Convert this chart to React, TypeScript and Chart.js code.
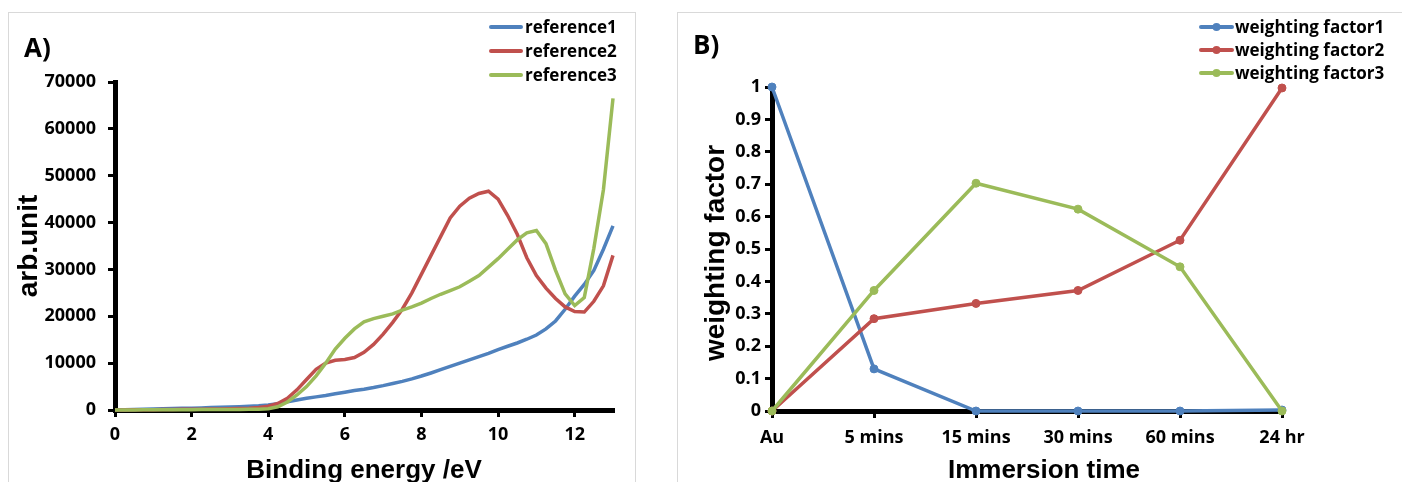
import React, { useEffect, useRef } from "react";
import { Chart, registerables } from "chart.js";

Chart.register(...registerables);

// ---------- Panel A data ----------
const energy = [0, 0.25, 0.5, 0.75, 1, 1.25, 1.5, 1.75, 2, 2.25, 2.5, 2.75, 3, 3.25, 3.5, 3.75, 4, 4.25, 4.5, 4.75, 5, 5.25, 5.5, 5.75, 6, 6.25, 6.5, 6.75, 7, 7.25, 7.5, 7.75, 8, 8.25, 8.5, 8.75, 9, 9.25, 9.5, 9.75, 10, 10.25, 10.5, 10.75, 11, 11.25, 11.5, 11.75, 12, 12.25, 12.5, 12.75, 13];
const reference1 = [0, 50, 100, 150, 200, 250, 300, 350, 400, 450, 520, 580, 650, 720, 800, 900, 1050, 1350, 1750, 2150, 2500, 2800, 3100, 3450, 3800, 4150, 4450, 4800, 5200, 5650, 6100, 6650, 7250, 7900, 8600, 9300, 10000, 10700, 11400, 12100, 12900, 13600, 14300, 15100, 16000, 17300, 19000, 21500, 24300, 26800, 29800, 34300, 39300];
const reference2 = [0, 20, 40, 60, 80, 100, 120, 140, 160, 180, 200, 230, 270, 320, 400, 550, 800, 1400, 2500, 4300, 6500, 8700, 10000, 10600, 10800, 11200, 12300, 14000, 16200, 18700, 21500, 25000, 29000, 33000, 37000, 41000, 43500, 45200, 46200, 46700, 45000, 41500, 37500, 32500, 28700, 26000, 23800, 22000, 21000, 20900, 23200, 26500, 33000];
const reference3 = [0, 10, 20, 30, 40, 50, 60, 70, 80, 90, 100, 110, 120, 130, 140, 160, 250, 700, 1700, 3200, 5000, 7300, 10000, 13000, 15300, 17300, 18800, 19500, 20000, 20500, 21300, 22000, 22800, 23800, 24700, 25500, 26300, 27500, 28700, 30500, 32300, 34300, 36300, 37800, 38300, 35500, 29800, 24800, 22300, 24000, 34500, 47000, 66500];
const energyTicks = [0, 2, 4, 6, 8, 10, 12];
const arbTicks = [0, 10000, 20000, 30000, 40000, 50000, 60000, 70000];
const seriesA = ["reference1", "reference2", "reference3"];

// ---------- Panel B data ----------
const immersion = ["Au", "5 mins", "15 mins", "30 mins", "60 mins", "24 hr"];
const factor1 = [1, 0.13, 0, 0, 0, 0.003];
const factor2 = [0, 0.285, 0.332, 0.372, 0.527, 0.997];
const factor3 = [0, 0.372, 0.703, 0.623, 0.445, 0];
const factorTicks = [0, 0.1, 0.2, 0.3, 0.4, 0.5, 0.6, 0.7, 0.8, 0.9, 1];
const seriesB = ["weighting factor1", "weighting factor2", "weighting factor3"];

const COLORS = ["#4F81BD", "#C0504D", "#9BBB59"];
const TICK_FONT = { family: "'Open Sans', sans-serif", size: 18, weight: "bold" as const };
const TITLE_FAMILY = "'Liberation Sans', Arial, sans-serif";
const LABEL_FAMILY = "'Open Sans', sans-serif";

type Decor = {
  panel: { text: string; x: number; y: number };
  xTitle: { text: string; x: number; y: number };
  yTitle: { text: string; x: number; y: number };
  legend: { labels: string[]; x0: number; x1: number; tx: number; ys: number[]; marker: boolean };
};

function decorPlugin(d: Decor) {
  return {
    id: "decor",
    afterDraw(chart: any) {
      const ctx: CanvasRenderingContext2D = chart.ctx;
      ctx.save();
      ctx.fillStyle = "#000";
      // panel label
      ctx.font = `bold 26px ${LABEL_FAMILY}`;
      ctx.textAlign = "left";
      ctx.textBaseline = "alphabetic";
      ctx.fillText(d.panel.text, d.panel.x, d.panel.y);
      // x title
      ctx.font = `bold 26px ${TITLE_FAMILY}`;
      ctx.textAlign = "center";
      ctx.fillText(d.xTitle.text, d.xTitle.x, d.xTitle.y);
      // y title
      ctx.save();
      ctx.translate(d.yTitle.x, d.yTitle.y);
      ctx.rotate(-Math.PI / 2);
      ctx.font = `bold 28px ${TITLE_FAMILY}`;
      ctx.textAlign = "center";
      ctx.textBaseline = "alphabetic";
      ctx.fillText(d.yTitle.text, 0, 0);
      ctx.restore();
      // legend
      const lg = d.legend;
      lg.labels.forEach((label, i) => {
        const y = lg.ys[i];
        ctx.strokeStyle = COLORS[i];
        ctx.lineWidth = 4;
        ctx.lineCap = "round";
        ctx.beginPath();
        ctx.moveTo(lg.x0, y);
        ctx.lineTo(lg.x1, y);
        ctx.stroke();
        if (lg.marker) {
          ctx.fillStyle = COLORS[i];
          ctx.beginPath();
          ctx.arc((lg.x0 + lg.x1) / 2, y, 4, 0, Math.PI * 2);
          ctx.fill();
        }
        ctx.fillStyle = "#000";
        ctx.font = `bold 17px ${LABEL_FAMILY}`;
        ctx.textAlign = "left";
        ctx.textBaseline = "middle";
        ctx.fillText(label, lg.tx, y + 1);
      });
      ctx.restore();
    },
  };
}

function axisStyle() {
  return {
    grid: { display: true, drawOnChartArea: false, drawTicks: true, tickLength: 7, tickWidth: 3, tickColor: "#000", lineWidth: 3, color: "#000" },
    border: { display: true, color: "#000", width: 5 },
  };
}

function ChartA() {
  const ref = useRef<HTMLCanvasElement>(null);
  useEffect(() => {
    const chart = new Chart(ref.current!, {
      type: "line",
      data: {
        datasets: [reference1, reference2, reference3].map((arr, i) => ({
          label: seriesA[i],
          data: energy.map((x, j) => ({ x, y: arr[j] })),
          borderColor: COLORS[i],
          backgroundColor: COLORS[i],
          borderWidth: 3.5,
          pointRadius: 0,
          tension: 0,
          order: 3 - i,
          clip: false as any,
        })),
      },
      options: {
        animation: false,
        responsive: false,
        maintainAspectRatio: false,
        events: [],
        layout: { padding: { left: 0, top: 82, right: 27, bottom: 0 } },
        plugins: { legend: { display: false }, tooltip: { enabled: false }, title: { display: false } },
        scales: {
          x: {
            type: "linear",
            min: 0,
            max: 13,
            afterBuildTicks: (s: any) => { s.ticks = energyTicks.map((v) => ({ value: v })); },
            afterFit: (s: any) => { s.height = 72; },
            ...axisStyle(),
            ticks: { color: "#000", font: TICK_FONT, padding: 7, maxRotation: 0, autoSkip: false },
          },
          y: {
            type: "linear",
            min: 0,
            max: 70000,
            afterBuildTicks: (s: any) => { s.ticks = arbTicks.map((v) => ({ value: v })); },
            afterFit: (s: any) => { s.width = 115; },
            ...axisStyle(),
            ticks: { color: "#000", font: TICK_FONT, padding: 12, callback: (v: any) => String(v) },
          },
        },
      } as any,
      plugins: [
        decorPlugin({
          panel: { text: "A)", x: 24, y: 57 },
          xTitle: { text: "Binding energy /eV", x: 364, y: 478 },
          yTitle: { text: "arb.unit", x: 37, y: 246 },
          legend: { labels: seriesA, x0: 491, x1: 521, tx: 525, ys: [27, 51, 75], marker: false },
        }),
      ],
    });
    return () => chart.destroy();
  }, []);
  return <canvas ref={ref} width={640} height={482} style={{ position: "absolute", left: 0, top: 0, width: 640, height: 482 }} />;
}

function ChartB() {
  const ref = useRef<HTMLCanvasElement>(null);
  useEffect(() => {
    const chart = new Chart(ref.current!, {
      type: "line",
      data: {
        labels: immersion,
        datasets: [factor1, factor2, factor3].map((arr, i) => ({
          label: seriesB[i],
          data: arr,
          borderColor: COLORS[i],
          backgroundColor: COLORS[i],
          pointBackgroundColor: COLORS[i],
          pointBorderColor: COLORS[i],
          borderWidth: 3.5,
          pointRadius: 4,
          pointBorderWidth: 1,
          tension: 0,
          order: 3 - i,
          clip: false as any,
        })),
      },
      options: {
        animation: false,
        responsive: false,
        maintainAspectRatio: false,
        events: [],
        layout: { padding: { left: 0, top: 87, right: 120, bottom: 0 } },
        plugins: { legend: { display: false }, tooltip: { enabled: false }, title: { display: false } },
        scales: {
          x: {
            type: "category",
            offset: false,
            afterFit: (s: any) => { s.height = 71; },
            ...axisStyle(),
            ticks: { color: "#000", font: TICK_FONT, padding: 9, maxRotation: 0, autoSkip: false },
          },
          y: {
            type: "linear",
            min: 0,
            max: 1,
            afterBuildTicks: (s: any) => { s.ticks = factorTicks.map((v) => ({ value: v })); },
            afterFit: (s: any) => { s.width = 112; },
            ...axisStyle(),
            ticks: { color: "#000", font: TICK_FONT, padding: 4, callback: (v: any) => String(Math.round(v * 10) / 10) },
          },
        },
      } as any,
      plugins: [
        decorPlugin({
          panel: { text: "B)", x: 33, y: 54 },
          xTitle: { text: "Immersion time", x: 384, y: 478 },
          yTitle: { text: "weighting factor", x: 64, y: 253 },
          legend: { labels: seriesB, x0: 541, x1: 572, tx: 575, ys: [27, 50, 73], marker: true },
        }),
      ],
    });
    return () => chart.destroy();
  }, []);
  return <canvas ref={ref} width={742} height={482} style={{ position: "absolute", left: 660, top: 0, width: 742, height: 482 }} />;
}

export default function App() {
  return (
    <div style={{ position: "fixed", left: 0, top: 0, width: 1402, height: 482, background: "#fff", overflow: "hidden" }}>
      <div style={{ position: "absolute", left: 8, top: 12, width: 626, height: 480, borderTop: "1px solid #D9D9D9", borderLeft: "1px solid #D9D9D9", borderRight: "1px solid #D9D9D9" }} />
      <div style={{ position: "absolute", left: 677, top: 12, width: 730, height: 480, borderTop: "1px solid #D9D9D9", borderLeft: "1px solid #D9D9D9" }} />
      <ChartA />
      <ChartB />
    </div>
  );
}
